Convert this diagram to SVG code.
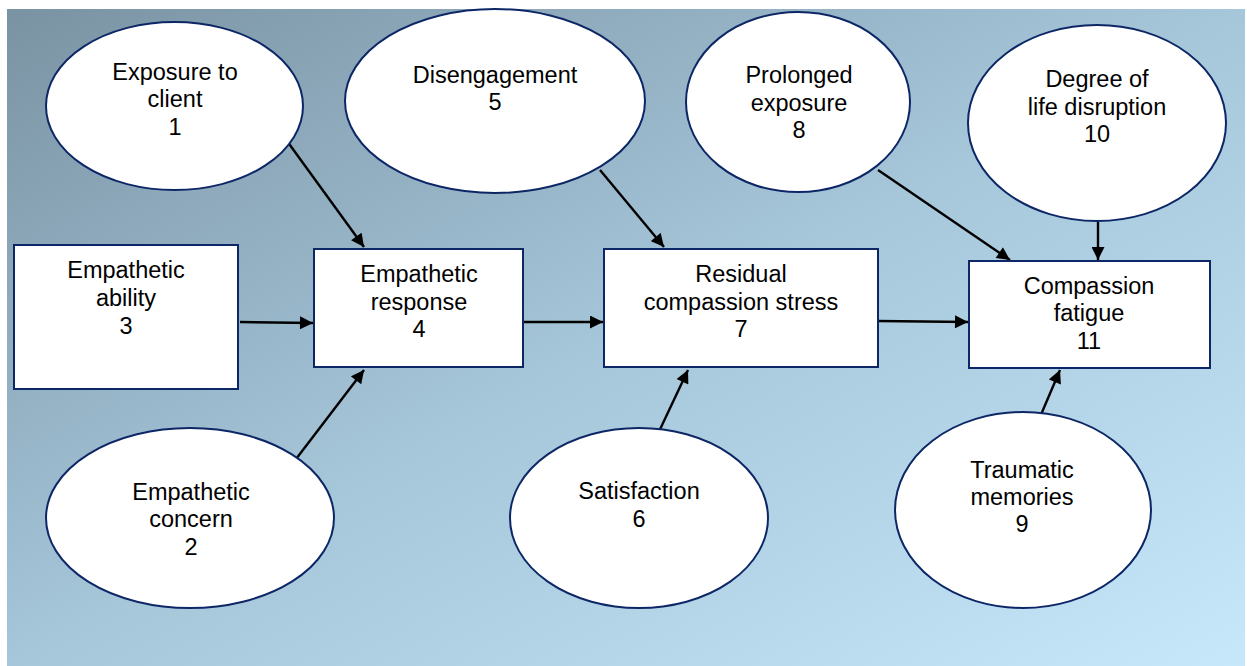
<svg xmlns="http://www.w3.org/2000/svg" width="1247" height="666" viewBox="0 0 1247 666">
  <defs>
    <linearGradient id="bg" x1="0" y1="0" x2="1" y2="1">
      <stop offset="0" stop-color="#7a93a3"/>
      <stop offset="0.5" stop-color="#a6c6da"/>
      <stop offset="1" stop-color="#c6e8fa"/>
    </linearGradient>
    <marker id="arrow" viewBox="0 0 10 10" refX="10" refY="5" markerWidth="14" markerHeight="13" markerUnits="userSpaceOnUse" orient="auto">
      <path d="M0,0 L10,5 L0,10 z" fill="#000"/>
    </marker>
    <style>
      .node { fill: #fff; stroke: #0d2766; stroke-width: 2; }
      .label { font-family: "Liberation Sans", Arial, sans-serif; font-size: 23.5px; fill: #000; text-anchor: middle; }
      .edge { stroke: #000; stroke-width: 2.4; fill: none; marker-end: url(#arrow); }
    </style>
  </defs>
  <rect x="0" y="0" width="1247" height="666" fill="#fff"/>
  <rect x="7" y="9" width="1238" height="657" fill="url(#bg)"/>

  <g id="connectors">
    <line class="edge" x1="287" y1="141" x2="364" y2="247"/>
    <line class="edge" x1="293" y1="463" x2="364" y2="370"/>
    <line class="edge" x1="240" y1="322" x2="313" y2="323"/>
    <line class="edge" x1="523" y1="322" x2="603" y2="322"/>
    <line class="edge" x1="600" y1="170" x2="664" y2="247"/>
    <line class="edge" x1="655" y1="440" x2="688" y2="370"/>
    <line class="edge" x1="878" y1="321" x2="968" y2="322"/>
    <line class="edge" x1="878" y1="170" x2="1010" y2="260"/>
    <line class="edge" x1="1098" y1="222" x2="1098" y2="260"/>
    <line class="edge" x1="1040" y1="417" x2="1060" y2="370"/>
  </g>

  <g id="n1">
    <ellipse class="node" cx="174.5" cy="106" rx="128.5" ry="84"/>
    <text class="label" x="175" y="80">Exposure to</text>
    <text class="label" x="175" y="107">client</text>
    <text class="label" x="175" y="135">1</text>
  </g>
  <g id="n2">
    <ellipse class="node" cx="190" cy="518" rx="144" ry="90"/>
    <text class="label" x="191" y="500">Empathetic</text>
    <text class="label" x="191" y="527">concern</text>
    <text class="label" x="191" y="555">2</text>
  </g>
  <g id="n3">
    <rect class="node" x="14" y="245" width="224" height="144"/>
    <text class="label" x="126" y="278">Empathetic</text>
    <text class="label" x="126" y="306">ability</text>
    <text class="label" x="126" y="334">3</text>
  </g>
  <g id="n4">
    <rect class="node" x="314" y="249" width="209" height="118"/>
    <text class="label" x="419" y="282">Empathetic</text>
    <text class="label" x="419" y="310">response</text>
    <text class="label" x="419" y="337">4</text>
  </g>
  <g id="n5">
    <ellipse class="node" cx="495" cy="101" rx="150" ry="92"/>
    <text class="label" x="495" y="83">Disengagement</text>
    <text class="label" x="495" y="110">5</text>
  </g>
  <g id="n6">
    <ellipse class="node" cx="639" cy="518" rx="129" ry="90"/>
    <text class="label" x="639" y="499">Satisfaction</text>
    <text class="label" x="639" y="527">6</text>
  </g>
  <g id="n7">
    <rect class="node" x="604" y="249" width="274" height="118"/>
    <text class="label" x="741" y="282">Residual</text>
    <text class="label" x="741" y="310">compassion stress</text>
    <text class="label" x="741" y="337">7</text>
  </g>
  <g id="n8">
    <ellipse class="node" cx="798" cy="102" rx="112" ry="90"/>
    <text class="label" x="799" y="83">Prolonged</text>
    <text class="label" x="799" y="111">exposure</text>
    <text class="label" x="799" y="138">8</text>
  </g>
  <g id="n9">
    <ellipse class="node" cx="1023" cy="510" rx="128" ry="98"/>
    <text class="label" x="1022" y="478">Traumatic</text>
    <text class="label" x="1022" y="505">memories</text>
    <text class="label" x="1022" y="532">9</text>
  </g>
  <g id="n10">
    <ellipse class="node" cx="1097" cy="123" rx="129" ry="98"/>
    <text class="label" x="1097" y="87">Degree of</text>
    <text class="label" x="1097" y="115">life disruption</text>
    <text class="label" x="1097" y="142">10</text>
  </g>
  <g id="n11">
    <rect class="node" x="969" y="261" width="241" height="107"/>
    <text class="label" x="1089" y="294">Compassion</text>
    <text class="label" x="1089" y="321">fatigue</text>
    <text class="label" x="1089" y="349">11</text>
  </g>
</svg>
